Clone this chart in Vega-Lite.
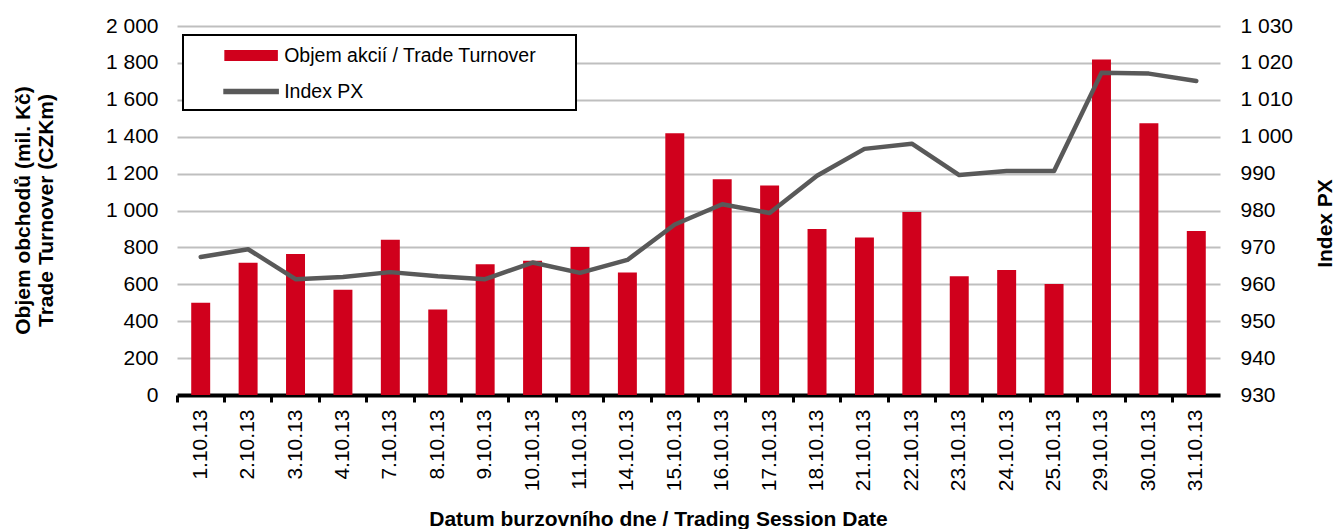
{
  "$schema": "https://vega.github.io/schema/vega-lite/v6.json",
  "width": 1043,
  "height": 369,
  "autosize": {"type": "none"},
  "padding": {"left": 177, "top": 26, "right": 116, "bottom": 134},
  "background": "white",
  "config": {"font": "Liberation Sans", "view": {"stroke": null}},
  "data": {"values": [
    {"date": "1.10.13", "turnover": 500, "px": 967.4},
    {"date": "2.10.13", "turnover": 717, "px": 969.5},
    {"date": "3.10.13", "turnover": 764, "px": 961.4},
    {"date": "4.10.13", "turnover": 570, "px": 962.0},
    {"date": "7.10.13", "turnover": 842, "px": 963.3},
    {"date": "8.10.13", "turnover": 463, "px": 962.2},
    {"date": "9.10.13", "turnover": 708, "px": 961.4},
    {"date": "10.10.13", "turnover": 728, "px": 965.9},
    {"date": "11.10.13", "turnover": 802, "px": 963.1},
    {"date": "14.10.13", "turnover": 664, "px": 966.6},
    {"date": "15.10.13", "turnover": 1419, "px": 976.2},
    {"date": "16.10.13", "turnover": 1169, "px": 981.7},
    {"date": "17.10.13", "turnover": 1135, "px": 979.3},
    {"date": "18.10.13", "turnover": 900, "px": 989.4},
    {"date": "21.10.13", "turnover": 854, "px": 996.7},
    {"date": "22.10.13", "turnover": 992, "px": 998.1},
    {"date": "23.10.13", "turnover": 643, "px": 989.6},
    {"date": "24.10.13", "turnover": 677, "px": 990.7},
    {"date": "25.10.13", "turnover": 601, "px": 990.7},
    {"date": "29.10.13", "turnover": 1819, "px": 1017.3},
    {"date": "30.10.13", "turnover": 1473, "px": 1017.1},
    {"date": "31.10.13", "turnover": 889, "px": 1015.1}
  ]},
  "encoding": {
    "x": {
      "field": "date", "type": "nominal", "sort": null,
      "scale": {"paddingInner": 0, "paddingOuter": 0},
      "axis": {
        "title": "Datum burzovního dne / Trading Session Date",
        "titleFontSize": 21, "titleFontWeight": "bold", "titleColor": "black",
        "titleX": 481, "titleY": 130, "titleAlign": "center", "titleBaseline": "alphabetic",
        "labelAngle": -90, "labelAlign": "right", "labelBaseline": "middle",
        "labelFontSize": 21, "labelColor": "black", "labelPadding": 7,
        "bandPosition": 0, "tickSize": 7, "tickWidth": 3, "tickColor": "black",
        "domainColor": "black", "domainWidth": 4, "grid": false, "labelOverlap": false
      }
    }
  },
  "layer": [
    {
      "mark": {"type": "bar", "width": {"band": 0.4}},
      "encoding": {
        "y": {
          "field": "turnover", "type": "quantitative",
          "scale": {"domain": [0, 2000], "nice": false},
          "axis": {
            "title": ["Objem obchodů (mil. Kč)", "Trade Turnover (CZKm)"],
            "values": [0, 200, 400, 600, 800, 1000, 1200, 1400, 1600, 1800, 2000],
            "labelExpr": "replace(format(datum.value, ','), ',', ' ')",
            "domain": false, "ticks": false, "labelPadding": 19,
            "labelFontSize": 21, "labelColor": "black",
            "grid": true, "gridColor": "#BFBFBF", "gridWidth": 2,
            "titleFontSize": 21, "titleFontWeight": "bold", "titleColor": "black",
            "titleX": -154, "titleY": 184, "titleAngle": -90,
            "titleAlign": "center", "titleBaseline": "middle", "titleLineHeight": 23
          }
        },
        "color": {
          "datum": "Objem akcií / Trade Turnover", "type": "nominal",
          "scale": {"domain": ["Objem akcií / Trade Turnover", "Index PX"], "range": ["#D0001C", "#595959"]},
          "legend": {
            "orient": "none", "legendX": 6, "legendY": 9, "title": null, "direction": "vertical",
            "fillColor": "white", "strokeColor": "black",
            "padding": 9, "rowPadding": 15, "labelLimit": 0,
            "labelFontSize": 19.5, "labelColor": "black", "labelOffset": 21.6,
            "symbolOffset": 47.6, "symbolSize": 433,
            "symbolType": "M-2.5,-0.45H2.5V0.45H-2.5Z",
            "labelExpr": "datum.label === 'Index PX' ? datum.label : datum.label + '\u2800\u2800'",
            "encode": {
              "legend": {"update": {"strokeWidth": {"value": 2}}},
              "symbols": {
                "update": {
                  "shape": {"signal": "datum.value === 'Index PX' ? 'M-2.6,-0.2H2.6V0.2H-2.6Z' : 'M-2.5,-0.45H2.5V0.45H-2.5Z'"},
                  "fill": {"signal": "datum.value === 'Index PX' ? '#595959' : '#D0001C'"},
                  "stroke": {"value": "transparent"},
                  "opacity": {"value": 1}
                }
              }
            }
          }
        }
      }
    },
    {
      "mark": {"type": "line", "strokeWidth": 4.5, "strokeJoin": "round", "strokeCap": "round"},
      "encoding": {
        "y": {
          "field": "px", "type": "quantitative",
          "scale": {"domain": [930, 1030], "nice": false, "zero": false},
          "axis": {
            "orient": "right", "title": "Index PX",
            "values": [930, 940, 950, 960, 970, 980, 990, 1000, 1010, 1020, 1030],
            "labelExpr": "replace(format(datum.value, ','), ',', ' ')",
            "domain": false, "ticks": false, "labelPadding": 20, "grid": false,
            "labelFontSize": 21, "labelColor": "black",
            "titleFontSize": 21, "titleFontWeight": "bold", "titleColor": "black",
            "titleX": 105, "titleY": 197, "titleAngle": -90,
            "titleAlign": "center", "titleBaseline": "middle"
          }
        },
        "color": {"datum": "Index PX", "type": "nominal"}
      }
    }
  ],
  "resolve": {"scale": {"y": "independent"}}
}
